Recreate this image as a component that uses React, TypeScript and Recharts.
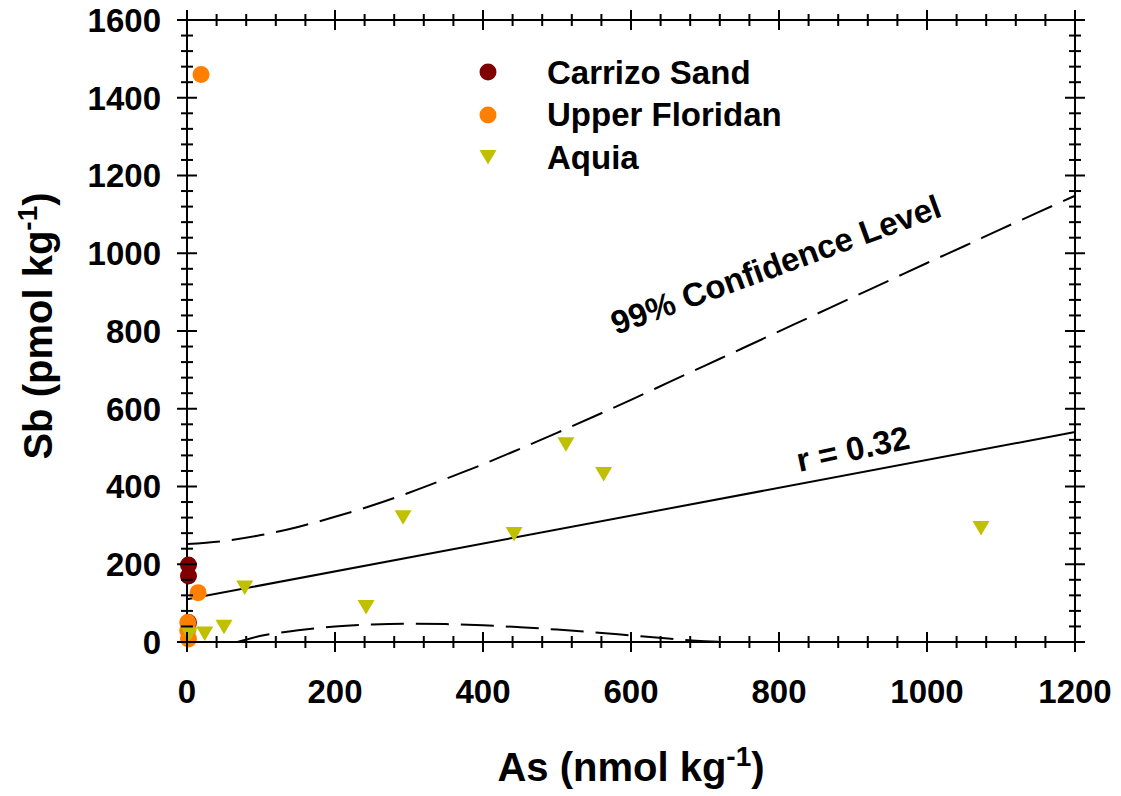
import React from "react";
import {
  ComposedChart,
  XAxis,
  YAxis,
  Scatter,
  Line,
  Label,
} from "recharts";

// ---- data ----
const carrizoX = [2, 2, 2];
const carrizoY = [198, 170, 50];

const floridanX = [19, 15, 1, 1, 2];
const floridanY = [1460, 127, 50, 30, 8];

const aquiaX = [3, 24, 50, 78, 242, 292, 442, 512, 563, 1073];
const aquiaY = [20, 22, 39, 140, 90, 321, 278, 509, 432, 293];

const regX = [0, 1200];
const regY = [110, 540];

const upperX = [0, 50, 100, 150, 200, 250, 300, 350, 400, 450, 500, 550, 600, 650, 700, 750, 800, 850, 900, 950, 1000, 1050, 1100, 1150, 1200];
const upperY = [252, 260, 275, 296, 322, 351, 384, 420, 457, 497, 538, 580, 623, 667, 711, 755, 799, 843, 887, 931, 975, 1018, 1062, 1105, 1148];

const lowerX = [68, 100, 150, 200, 250, 300, 350, 400, 450, 500, 550, 600, 650, 700, 725];
const lowerY = [0, 16, 30, 40, 45, 47, 46, 43, 38, 32, 25, 17, 9, 2, 0];

const xTicks = [0, 40, 80, 120, 160, 200, 240, 280, 320, 360, 400, 440, 480, 520, 560, 600, 640, 680, 720, 760, 800, 840, 880, 920, 960, 1000, 1040, 1080, 1120, 1160, 1200];
const yTicks = [0, 40, 80, 120, 160, 200, 240, 280, 320, 360, 400, 440, 480, 520, 560, 600, 640, 680, 720, 760, 800, 840, 880, 920, 960, 1000, 1040, 1080, 1120, 1160, 1200, 1240, 1280, 1320, 1360, 1400, 1440, 1480, 1520, 1560, 1600];

const annoX = [801, 903];
const annoY = [943, 468];
const annoText = ["99% Confidence Level", "r = 0.32"];
const annoAngle = [-20, -12];

const seriesNames = ["Carrizo Sand", "Upper Floridan", "Aquia"];
const seriesColors = ["#800000", "#FF8000", "#C0C000"];

// ---- build tables ----
const zip = (xs: number[], ys: number[]) => xs.map((x, i) => ({ x, y: ys[i] }));
const carrizo = zip(carrizoX, carrizoY);
const floridan = zip(floridanX, floridanY);
const aquia = zip(aquiaX, aquiaY);
const reg = zip(regX, regY);
const upper = zip(upperX, upperY);
const lower = zip(lowerX, lowerY);
const annos = annoX.map((x, i) => ({ x, y: annoY[i], text: annoText[i], angle: annoAngle[i] }));

const FONT = "'Liberation Sans', Arial, Helvetica, sans-serif";

const isMajor = (v: number) => v % 200 === 0;

const BottomTick = (props: any) => {
  const { x, y, payload } = props;
  const m = isMajor(payload.value);
  const h = m ? 10 : 6;
  return (
    <g>
      <line x1={x} x2={x} y1={y - h} y2={y + h} stroke="#000" strokeWidth={2} />
      {m && (
        <text x={x} y={y + 61} textAnchor="middle" fontFamily={FONT} fontWeight="bold" fontSize={33} fill="#000">
          {payload.value}
        </text>
      )}
    </g>
  );
};

const TopTick = (props: any) => {
  const { x, y, payload } = props;
  const m = isMajor(payload.value);
  const h = m ? 10 : 6;
  return <line x1={x} x2={x} y1={y - h} y2={y + h} stroke="#000" strokeWidth={2} />;
};

const LeftTick = (props: any) => {
  const { x, y, payload } = props;
  const m = isMajor(payload.value);
  const h = m ? 10 : 6;
  return (
    <g>
      <line x1={x - h} x2={x + h} y1={y} y2={y} stroke="#000" strokeWidth={2} />
      {m && (
        <text x={x - 26} y={y} dy="0.36em" textAnchor="end" fontFamily={FONT} fontWeight="bold" fontSize={33} fill="#000">
          {payload.value}
        </text>
      )}
    </g>
  );
};

const RightTick = (props: any) => {
  const { x, y, payload } = props;
  const m = isMajor(payload.value);
  const h = m ? 10 : 6;
  return <line x1={x - h} x2={x + h} y1={y} y2={y} stroke="#000" strokeWidth={2} />;
};

const Circle = (color: string) => (props: any) => {
  const { cx, cy } = props;
  return <circle cx={cx} cy={cy} r={8.5} fill={color} />;
};

const Tri = (props: any) => {
  const { cx, cy } = props;
  return (
    <polygon
      points={`${cx - 8.5},${cy - 7} ${cx + 8.5},${cy - 7} ${cx},${cy + 7.5}`}
      fill={seriesColors[2]}
    />
  );
};

const Anno = (props: any) => {
  const { cx, cy, payload } = props;
  return (
    <text
      x={cx}
      y={cy}
      textAnchor="middle"
      transform={`rotate(${payload.angle}, ${cx}, ${cy})`}
      fontFamily={FONT}
      fontWeight="bold"
      fontSize={33}
      fill="#000"
    >
      {payload.text}
    </text>
  );
};

const LegendBox = () => (
  <div
    style={{
      position: "absolute",
      left: 470,
      top: 51,
      width: 360,
      fontFamily: FONT,
      fontWeight: "bold",
      fontSize: 33,
      color: "#000",
    }}
  >
    {seriesNames.map((n, i) => (
      <div key={n} style={{ display: "flex", alignItems: "center", height: 42.5 }}>
        <svg width={36} height={36} style={{ display: "block" }}>
          {i < 2 ? (
            <circle cx={18} cy={18} r={8.5} fill={seriesColors[i]} />
          ) : (
            <polygon points="9.5,11 26.5,11 18,25.5" fill={seriesColors[2]} />
          )}
        </svg>
        <span style={{ marginLeft: 41, lineHeight: 1 }}>{n}</span>
      </div>
    ))}
  </div>
);

const XTitle = (props: any) => {
  const vb = props.viewBox;
  return (
    <text x={vb.x + vb.width / 2} y={vb.y + 139} textAnchor="middle" fontFamily={FONT} fontWeight="bold" fontSize={40} fill="#000">
      As (nmol kg
      <tspan dy={-15} fontSize={28}>-1</tspan>
      <tspan dy={15}>)</tspan>
    </text>
  );
};

const YTitle = (props: any) => {
  const vb = props.viewBox;
  const cx = 52;
  const cy = vb.y + vb.height / 2 - 5;
  return (
    <text x={cx} y={cy} transform={`rotate(-90, ${cx}, ${cy})`} textAnchor="middle" fontFamily={FONT} fontWeight="bold" fontSize={40} fill="#000">
      Sb (pmol kg
      <tspan dy={-15} fontSize={28}>-1</tspan>
      <tspan dy={15}>)</tspan>
    </text>
  );
};

export default function App() {
  return (
    <div style={{ position: "absolute", left: 0, top: 0, width: 1121, height: 796, background: "#fff" }}>
      <ComposedChart width={1121} height={796} margin={{ top: 19, right: 45, bottom: 54, left: 87 }}>
        <XAxis
          xAxisId={0}
          dataKey="x"
          type="number"
          domain={[0, 1200]}
          ticks={xTicks}
          interval={0}
          orientation="bottom"
          height={100}
          tickSize={0}
          tickMargin={0}
          tickLine={false}
          tick={<BottomTick />}
          axisLine={{ stroke: "#000", strokeWidth: 2 }}
        >
          <Label content={<XTitle />} />
        </XAxis>
        <XAxis
          xAxisId="top"
          dataKey="x"
          type="number"
          domain={[0, 1200]}
          ticks={xTicks}
          interval={0}
          orientation="top"
          height={1}
          tickSize={0}
          tickMargin={0}
          tickLine={false}
          tick={<TopTick />}
          axisLine={{ stroke: "#000", strokeWidth: 2 }}
          allowDataOverflow
        />
        <YAxis
          yAxisId={0}
          dataKey="y"
          type="number"
          domain={[0, 1600]}
          ticks={yTicks}
          interval={0}
          orientation="left"
          width={100}
          tickSize={0}
          tickMargin={0}
          tickLine={false}
          tick={<LeftTick />}
          axisLine={{ stroke: "#000", strokeWidth: 2 }}
        >
          <Label content={<YTitle />} />
        </YAxis>
        <YAxis
          yAxisId="right"
          dataKey="y"
          type="number"
          domain={[0, 1600]}
          ticks={yTicks}
          interval={0}
          orientation="right"
          width={1}
          tickSize={0}
          tickMargin={0}
          tickLine={false}
          tick={<RightTick />}
          axisLine={{ stroke: "#000", strokeWidth: 2 }}
          allowDataOverflow
        />
        <Line data={reg} dataKey="y" stroke="#000" strokeWidth={2} dot={false} isAnimationActive={false} legendType="none" />
        <Line data={upper} dataKey="y" stroke="#000" strokeWidth={2} strokeDasharray="33 12" dot={false} type="monotone" isAnimationActive={false} legendType="none" />
        <Line data={lower} dataKey="y" stroke="#000" strokeWidth={2} strokeDasharray="33 12" dot={false} type="monotone" isAnimationActive={false} legendType="none" />
        <Scatter name={seriesNames[0]} data={carrizo} shape={Circle(seriesColors[0])} isAnimationActive={false} />
        <Scatter name={seriesNames[1]} data={floridan} shape={Circle(seriesColors[1])} isAnimationActive={false} />
        <Scatter name={seriesNames[2]} data={aquia} shape={<Tri />} isAnimationActive={false} />
        <Scatter data={annos} shape={<Anno />} isAnimationActive={false} legendType="none" />
      </ComposedChart>
      <LegendBox />
    </div>
  );
}
